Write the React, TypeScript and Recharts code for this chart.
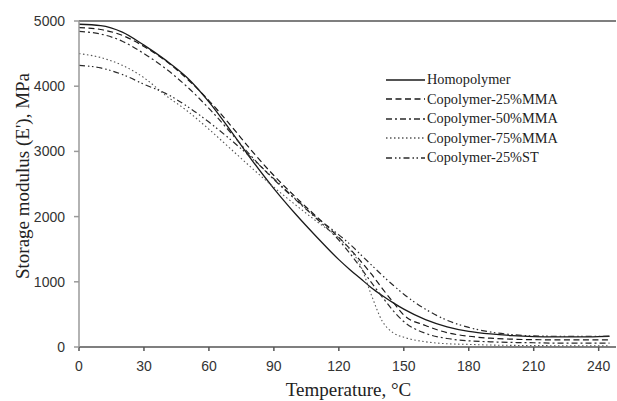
import React from "react";
import { LineChart, Line, XAxis, YAxis, ReferenceLine } from "recharts";

const temperatures = [0, 10, 20, 30, 40, 50, 60, 70, 80, 90, 100, 110, 120, 125, 130, 135, 140, 145, 150, 160, 170, 180, 190, 200, 210, 220, 230, 240, 245];

const homopolymer = [4950, 4930, 4830, 4630, 4400, 4130, 3760, 3320, 2860, 2430, 2040, 1680, 1340, 1190, 1050, 910, 790, 680, 580, 420, 310, 240, 200, 175, 160, 155, 155, 160, 165];
const copolymer25MMA = [4900, 4870, 4780, 4610, 4390, 4110, 3780, 3400, 3000, 2630, 2300, 1990, 1680, 1510, 1320, 1120, 900, 690, 490, 330, 220, 165, 135, 120, 112, 110, 110, 110, 110];
const copolymer50MMA = [4840, 4800, 4690, 4500, 4270, 3990, 3660, 3290, 2910, 2570, 2260, 1960, 1640, 1440, 1220, 990, 770, 560, 390, 210, 130, 95, 80, 70, 65, 60, 60, 60, 60];
const copolymer75MMA = [4500, 4440, 4320, 4130, 3860, 3620, 3340, 3040, 2740, 2450, 2180, 1920, 1670, 1500, 1250, 800, 400, 220, 150, 80, 50, 40, 30, 25, 22, 20, 20, 20, 20];
const copolymer25ST = [4320, 4280, 4180, 4030, 3890, 3690, 3450, 3180, 2890, 2580, 2270, 1980, 1720, 1580, 1420, 1260, 1100, 950, 810, 580, 410, 300, 230, 190, 170, 165, 165, 165, 165];

const xTicks = [0, 30, 60, 90, 120, 150, 180, 210, 240];
const yTicks = [0, 1000, 2000, 3000, 4000, 5000];

const seriesNames = ["Homopolymer", "Copolymer-25%MMA", "Copolymer-50%MMA", "Copolymer-75%MMA", "Copolymer-25%ST"];

const seriesStyles = [
  { key: "homo", color: "#1a1a1a", dash: "", width: 1.3 },
  { key: "mma25", color: "#1a1a1a", dash: "6 3.5", width: 1.2 },
  { key: "mma50", color: "#2a2a2a", dash: "6 3 2 3", width: 1.2 },
  { key: "mma75", color: "#555555", dash: "1.5 2.5", width: 1.1 },
  { key: "st25", color: "#2a2a2a", dash: "6 3 1.5 2.5 1.5 3", width: 1.2 },
];

const seriesValues = [homopolymer, copolymer25MMA, copolymer50MMA, copolymer75MMA, copolymer25ST];

const data = temperatures.map((t, i) => {
  const row: Record<string, number> = { t };
  seriesStyles.forEach((s, k) => {
    row[s.key] = seriesValues[k][i];
  });
  return row;
});

const SERIF = '"Liberation Serif", "Times New Roman", serif';
const SANS = '"Liberation Sans", Arial, sans-serif';

const LegendBox = () => (
  <div style={{ position: "absolute", left: 386, top: 70, fontFamily: SERIF, fontSize: 14.3, color: "#222", lineHeight: "19.5px" }}>
    {seriesNames.map((name, i) => (
      <div key={name} style={{ display: "flex", alignItems: "center", height: 19.5, whiteSpace: "nowrap" }}>
        <svg width={40} height={10} style={{ marginRight: 1, display: "block" }}>
          <line x1={0} y1={5} x2={39} y2={5} stroke={seriesStyles[i].color} strokeWidth={1.3} strokeDasharray={seriesStyles[i].dash} />
        </svg>
        <span>{name}</span>
      </div>
    ))}
  </div>
);

const YLabel = (props: any) => {
  const vb = props.viewBox || { x: 0, y: 21, width: 79, height: 326 };
  const cx = vb.x + 22;
  const cy = vb.y + vb.height / 2 - 8;
  return (
    <text
      x={cx}
      y={cy}
      transform={`rotate(-90, ${cx}, ${cy})`}
      textAnchor="middle"
      dominantBaseline="central"
      fontFamily={SERIF}
      fontSize={19}
      fill="#222"
    >
      Storage modulus (E'), MPa
    </text>
  );
};

const XLabel = (props: any) => {
  const vb = props.viewBox || { x: 79, y: 347, width: 537, height: 54 };
  const cx = vb.x + vb.width / 2 + 1;
  const cy = vb.y + 49;
  return (
    <text x={cx} y={cy} textAnchor="middle" fontFamily={SERIF} fontSize={19} fill="#222">
      Temperature, °C
    </text>
  );
};

export default function App() {
  return (
    <div style={{ position: "absolute", left: 0, top: 0, width: 617, height: 401, background: "#fff" }}>
      <LineChart width={617} height={401} data={data} margin={{ top: 21, right: 1, left: 0, bottom: 0 }}>
        <XAxis
          dataKey="t"
          type="number"
          domain={[0, 248]}
          ticks={xTicks}
          allowDataOverflow
          height={54}
          tickSize={4}
          tickMargin={10}
          stroke="#555"
          strokeWidth={1.5}
          tick={{ fill: "#333", fontSize: 14, fontFamily: SANS }}
          label={<XLabel />}
        />
        <YAxis
          type="number"
          domain={[0, 5000]}
          ticks={yTicks}
          width={79}
          tickSize={5}
          tickMargin={9}
          stroke="#9a9a9a"
          strokeWidth={1.5}
          tick={{ fill: "#333", fontSize: 14, fontFamily: SANS }}
          label={<YLabel />}
        />
        <ReferenceLine y={5000} stroke="#555" strokeWidth={1.5} />
        {seriesStyles.map((s, i) => (
          <Line
            key={s.key}
            dataKey={s.key}
            name={seriesNames[i]}
            type="monotone"
            stroke={s.color}
            strokeWidth={s.width}
            strokeDasharray={s.dash || undefined}
            dot={false}
            activeDot={false}
            isAnimationActive={false}
          />
        ))}
      </LineChart>
      <LegendBox />
    </div>
  );
}
